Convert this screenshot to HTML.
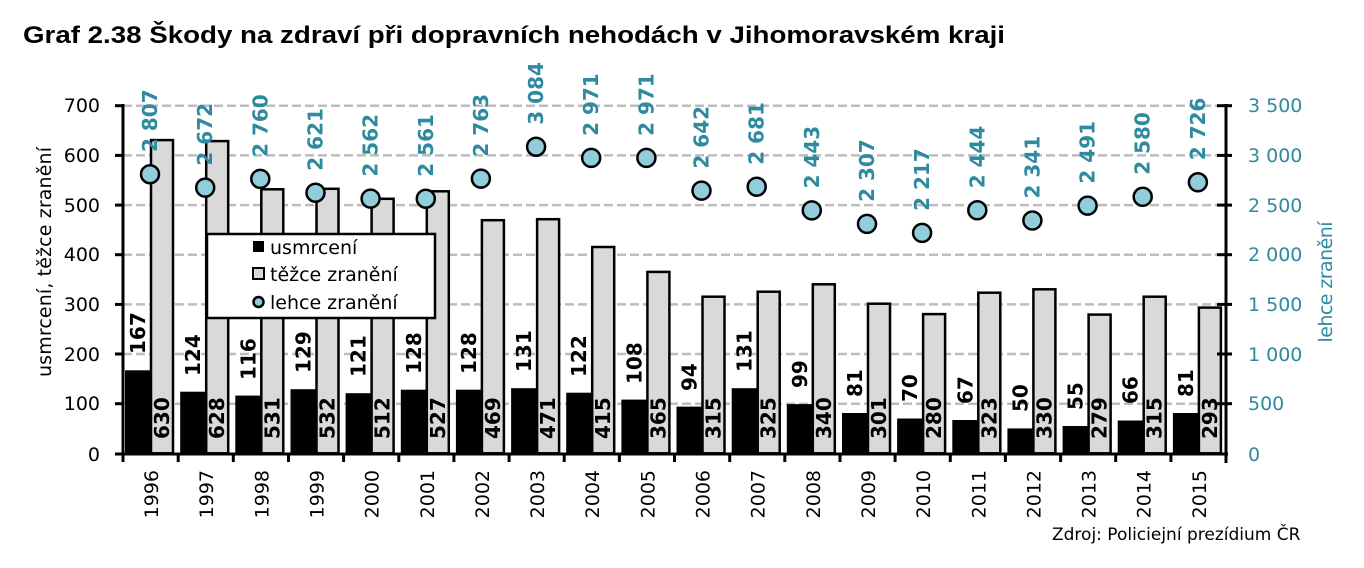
<!DOCTYPE html>
<html><head><meta charset="utf-8"><style>
html,body{margin:0;padding:0;background:#fff;}
svg{display:block;}
.t{font-family:"DejaVu Sans","Liberation Sans",sans-serif;font-size:17px;}
.y{font-family:"DejaVu Sans","Liberation Sans",sans-serif;font-size:19px;}
.b{font-family:"DejaVu Sans","Liberation Sans",sans-serif;font-size:20px;font-weight:bold;}
.bl{fill:#2e8a9e;}
</style></head><body>
<svg width="1364" height="568" xmlns="http://www.w3.org/2000/svg">
<rect width="1364" height="568" fill="#fff"/>
<text x="23" y="43" font-family="Liberation Sans, sans-serif" font-size="24" font-weight="bold" textLength="982" lengthAdjust="spacingAndGlyphs">Graf 2.38 Škody na zdraví při dopravních nehodách v Jihomoravském kraji</text>
<g stroke="#bdbdbd" stroke-width="2.5" stroke-dasharray="9,4">
<line x1="123" x2="1226" y1="105.7" y2="105.7"/><line x1="123" x2="1226" y1="155.4" y2="155.4"/><line x1="123" x2="1226" y1="205.1" y2="205.1"/><line x1="123" x2="1226" y1="254.7" y2="254.7"/><line x1="123" x2="1226" y1="304.4" y2="304.4"/><line x1="123" x2="1226" y1="354" y2="354"/><line x1="123" x2="1226" y1="403.7" y2="403.7"/>
</g>
<g fill="#000">
<rect x="125" y="370.3" width="26" height="83"/><rect x="180.2" y="391.7" width="26" height="61.6"/><rect x="235.3" y="395.6" width="26" height="57.7"/><rect x="290.5" y="389.2" width="26" height="64.1"/><rect x="345.6" y="393.2" width="26" height="60.1"/><rect x="400.8" y="389.7" width="26" height="63.6"/><rect x="455.9" y="389.7" width="26" height="63.6"/><rect x="511.1" y="388.2" width="26" height="65.1"/><rect x="566.2" y="392.7" width="26" height="60.6"/><rect x="621.4" y="399.6" width="26" height="53.7"/><rect x="676.5" y="406.6" width="26" height="46.7"/><rect x="731.7" y="388.2" width="26" height="65.1"/><rect x="786.8" y="404.1" width="26" height="49.2"/><rect x="842" y="413" width="26" height="40.3"/><rect x="897.1" y="418.5" width="26" height="34.8"/><rect x="952.3" y="420" width="26" height="33.3"/><rect x="1007.4" y="428.4" width="26" height="24.9"/><rect x="1062.6" y="426" width="26" height="27.3"/><rect x="1117.7" y="420.5" width="26" height="32.8"/><rect x="1172.9" y="413" width="26" height="40.3"/>
</g>
<g fill="#d9d9d9" stroke="#000" stroke-width="2.5">
<rect x="151" y="140.1" width="22" height="313.2"/><rect x="206.2" y="141.1" width="22" height="312.2"/><rect x="261.3" y="189.3" width="22" height="264"/><rect x="316.5" y="188.8" width="22" height="264.5"/><rect x="371.6" y="198.8" width="22" height="254.5"/><rect x="426.8" y="191.3" width="22" height="262"/><rect x="481.9" y="220.2" width="22" height="233.1"/><rect x="537.1" y="219.2" width="22" height="234.1"/><rect x="592.2" y="247" width="22" height="206.3"/><rect x="647.4" y="271.9" width="22" height="181.4"/><rect x="702.5" y="296.7" width="22" height="156.6"/><rect x="757.7" y="291.7" width="22" height="161.6"/><rect x="812.8" y="284.3" width="22" height="169"/><rect x="868" y="303.7" width="22" height="149.6"/><rect x="923.1" y="314.1" width="22" height="139.2"/><rect x="978.3" y="292.7" width="22" height="160.6"/><rect x="1033.4" y="289.3" width="22" height="164"/><rect x="1088.6" y="314.6" width="22" height="138.7"/><rect x="1143.7" y="296.7" width="22" height="156.6"/><rect x="1198.9" y="307.6" width="22" height="145.7"/>
</g>
<g stroke="#000" stroke-width="3">
<line x1="123" y1="104" x2="123" y2="455"/><line x1="1226" y1="104" x2="1226" y2="463"/><line x1="121" y1="454" x2="1228" y2="454"/>
<line x1="115" x2="123" y1="105.7" y2="105.7"/><line x1="115" x2="123" y1="155.4" y2="155.4"/><line x1="115" x2="123" y1="205.1" y2="205.1"/><line x1="115" x2="123" y1="254.7" y2="254.7"/><line x1="115" x2="123" y1="304.4" y2="304.4"/><line x1="115" x2="123" y1="354" y2="354"/><line x1="115" x2="123" y1="403.7" y2="403.7"/><line x1="115" x2="123" y1="454" y2="454"/>
<line x1="1217" x2="1232" y1="105.7" y2="105.7"/><line x1="1217" x2="1232" y1="155.4" y2="155.4"/><line x1="1217" x2="1232" y1="205.1" y2="205.1"/><line x1="1217" x2="1232" y1="254.7" y2="254.7"/><line x1="1217" x2="1232" y1="304.4" y2="304.4"/><line x1="1217" x2="1232" y1="354" y2="354"/><line x1="1217" x2="1232" y1="403.7" y2="403.7"/>
<line x1="123" x2="123" y1="454" y2="462"/><line x1="178.2" x2="178.2" y1="454" y2="462"/><line x1="233.3" x2="233.3" y1="454" y2="462"/><line x1="288.5" x2="288.5" y1="454" y2="462"/><line x1="343.6" x2="343.6" y1="454" y2="462"/><line x1="398.8" x2="398.8" y1="454" y2="462"/><line x1="453.9" x2="453.9" y1="454" y2="462"/><line x1="509.1" x2="509.1" y1="454" y2="462"/><line x1="564.2" x2="564.2" y1="454" y2="462"/><line x1="619.4" x2="619.4" y1="454" y2="462"/><line x1="674.5" x2="674.5" y1="454" y2="462"/><line x1="729.7" x2="729.7" y1="454" y2="462"/><line x1="784.8" x2="784.8" y1="454" y2="462"/><line x1="840" x2="840" y1="454" y2="462"/><line x1="895.1" x2="895.1" y1="454" y2="462"/><line x1="950.3" x2="950.3" y1="454" y2="462"/><line x1="1005.4" x2="1005.4" y1="454" y2="462"/><line x1="1060.6" x2="1060.6" y1="454" y2="462"/><line x1="1115.7" x2="1115.7" y1="454" y2="462"/><line x1="1170.9" x2="1170.9" y1="454" y2="462"/>
</g>
<g fill="#92cddc" stroke="#000" stroke-width="2.5">
<circle cx="150" cy="174.2" r="9"/><circle cx="205.2" cy="187.6" r="9"/><circle cx="260.3" cy="178.9" r="9"/><circle cx="315.5" cy="192.7" r="9"/><circle cx="370.6" cy="198.6" r="9"/><circle cx="425.8" cy="198.7" r="9"/><circle cx="480.9" cy="178.6" r="9"/><circle cx="536.1" cy="146.7" r="9"/><circle cx="591.2" cy="157.9" r="9"/><circle cx="646.4" cy="157.9" r="9"/><circle cx="701.5" cy="190.6" r="9"/><circle cx="756.7" cy="186.7" r="9"/><circle cx="811.8" cy="210.4" r="9"/><circle cx="867" cy="223.9" r="9"/><circle cx="922.1" cy="232.9" r="9"/><circle cx="977.3" cy="210.3" r="9"/><circle cx="1032.4" cy="220.5" r="9"/><circle cx="1087.6" cy="205.6" r="9"/><circle cx="1142.7" cy="196.8" r="9"/><circle cx="1197.9" cy="182.3" r="9"/>
</g>
<g class="b" fill="#000">
<text transform="translate(145,354) rotate(-90)">167</text><text transform="translate(200.2,376) rotate(-90)">124</text><text transform="translate(255.3,380) rotate(-90)">116</text><text transform="translate(310.5,373) rotate(-90)">129</text><text transform="translate(365.6,377) rotate(-90)">121</text><text transform="translate(420.8,374) rotate(-90)">128</text><text transform="translate(475.9,374) rotate(-90)">128</text><text transform="translate(531.1,372) rotate(-90)">131</text><text transform="translate(586.2,377) rotate(-90)">122</text><text transform="translate(641.4,384) rotate(-90)">108</text><text transform="translate(696.5,391) rotate(-90)">94</text><text transform="translate(751.7,372) rotate(-90)">131</text><text transform="translate(806.8,388) rotate(-90)">99</text><text transform="translate(862,397) rotate(-90)">81</text><text transform="translate(917.1,402) rotate(-90)">70</text><text transform="translate(972.3,404) rotate(-90)">67</text><text transform="translate(1027.4,412) rotate(-90)">50</text><text transform="translate(1082.6,410) rotate(-90)">55</text><text transform="translate(1137.7,404) rotate(-90)">66</text><text transform="translate(1192.9,397) rotate(-90)">81</text>
<text transform="translate(169,439) rotate(-90)">630</text><text transform="translate(224.2,439) rotate(-90)">628</text><text transform="translate(279.3,439) rotate(-90)">531</text><text transform="translate(334.5,439) rotate(-90)">532</text><text transform="translate(389.6,439) rotate(-90)">512</text><text transform="translate(444.8,439) rotate(-90)">527</text><text transform="translate(499.9,439) rotate(-90)">469</text><text transform="translate(555.1,439) rotate(-90)">471</text><text transform="translate(610.2,439) rotate(-90)">415</text><text transform="translate(665.4,439) rotate(-90)">365</text><text transform="translate(720.5,439) rotate(-90)">315</text><text transform="translate(775.7,439) rotate(-90)">325</text><text transform="translate(830.8,439) rotate(-90)">340</text><text transform="translate(886,439) rotate(-90)">301</text><text transform="translate(941.1,439) rotate(-90)">280</text><text transform="translate(996.3,439) rotate(-90)">323</text><text transform="translate(1051.4,439) rotate(-90)">330</text><text transform="translate(1106.6,439) rotate(-90)">279</text><text transform="translate(1161.7,439) rotate(-90)">315</text><text transform="translate(1216.9,439) rotate(-90)">293</text>
</g>
<g class="b bl">
<text transform="translate(157,152) rotate(-90)">2 807</text><text transform="translate(212.2,165.6) rotate(-90)">2 672</text><text transform="translate(267.3,156.9) rotate(-90)">2 760</text><text transform="translate(322.5,170.7) rotate(-90)">2 621</text><text transform="translate(377.6,176.6) rotate(-90)">2 562</text><text transform="translate(432.8,176.7) rotate(-90)">2 561</text><text transform="translate(487.9,156.6) rotate(-90)">2 763</text><text transform="translate(543.1,124.7) rotate(-90)">3 084</text><text transform="translate(598.2,135.9) rotate(-90)">2 971</text><text transform="translate(653.4,135.9) rotate(-90)">2 971</text><text transform="translate(708.5,168.6) rotate(-90)">2 642</text><text transform="translate(763.7,164.7) rotate(-90)">2 681</text><text transform="translate(818.8,188.4) rotate(-90)">2 443</text><text transform="translate(874,201.9) rotate(-90)">2 307</text><text transform="translate(929.1,210.9) rotate(-90)">2 217</text><text transform="translate(984.3,188.3) rotate(-90)">2 444</text><text transform="translate(1039.4,198.5) rotate(-90)">2 341</text><text transform="translate(1094.6,183.6) rotate(-90)">2 491</text><text transform="translate(1149.7,174.8) rotate(-90)">2 580</text><text transform="translate(1204.9,160.3) rotate(-90)">2 726</text>
</g>
<g class="y" fill="#000" text-anchor="end">
<text transform="translate(158,470) rotate(-90)">1996</text><text transform="translate(213.2,470) rotate(-90)">1997</text><text transform="translate(268.3,470) rotate(-90)">1998</text><text transform="translate(323.5,470) rotate(-90)">1999</text><text transform="translate(378.6,470) rotate(-90)">2000</text><text transform="translate(433.8,470) rotate(-90)">2001</text><text transform="translate(488.9,470) rotate(-90)">2002</text><text transform="translate(544.1,470) rotate(-90)">2003</text><text transform="translate(599.2,470) rotate(-90)">2004</text><text transform="translate(654.4,470) rotate(-90)">2005</text><text transform="translate(709.5,470) rotate(-90)">2006</text><text transform="translate(764.7,470) rotate(-90)">2007</text><text transform="translate(819.8,470) rotate(-90)">2008</text><text transform="translate(875,470) rotate(-90)">2009</text><text transform="translate(930.1,470) rotate(-90)">2010</text><text transform="translate(985.3,470) rotate(-90)">2011</text><text transform="translate(1040.4,470) rotate(-90)">2012</text><text transform="translate(1095.6,470) rotate(-90)">2013</text><text transform="translate(1150.7,470) rotate(-90)">2014</text><text transform="translate(1205.9,470) rotate(-90)">2015</text>
</g>
<g class="y" fill="#000" text-anchor="end">
<text x="100" y="112">700</text><text x="100" y="162">600</text><text x="100" y="212">500</text><text x="100" y="261">400</text><text x="100" y="311">300</text><text x="100" y="361">200</text><text x="100" y="410">100</text><text x="100" y="461">0</text>
</g>
<g class="y bl">
<text x="1248" y="112">3 500</text><text x="1248" y="162">3 000</text><text x="1248" y="212">2 500</text><text x="1248" y="261">2 000</text><text x="1248" y="311">1 500</text><text x="1248" y="361">1 000</text><text x="1248" y="410">500</text><text x="1248" y="461">0</text>
<text transform="translate(1332,282) rotate(-90)" text-anchor="middle" textLength="121">lehce zranění</text>
</g>
<text class="y" transform="translate(51,262) rotate(-90)" text-anchor="middle" textLength="230">usmrcení,  těžce  zranění</text>
<rect x="207" y="234" width="228" height="84" fill="#fff" stroke="#000" stroke-width="2.5"/>
<rect x="253" y="241" width="11" height="11" fill="#000"/>
<rect x="253" y="268" width="11" height="11" fill="#d9d9d9" stroke="#000" stroke-width="2"/>
<circle cx="258.5" cy="302" r="5" fill="#92cddc" stroke="#000" stroke-width="2.5"/>
<g class="y"><text x="270" y="254">usmrcení</text><text x="270" y="281">těžce zranění</text><text x="270" y="309">lehce zranění</text></g>
<text class="t" x="1052" y="540" font-size="17">Zdroj:  Policiejní prezídium ČR</text>
</svg>
</body></html>
